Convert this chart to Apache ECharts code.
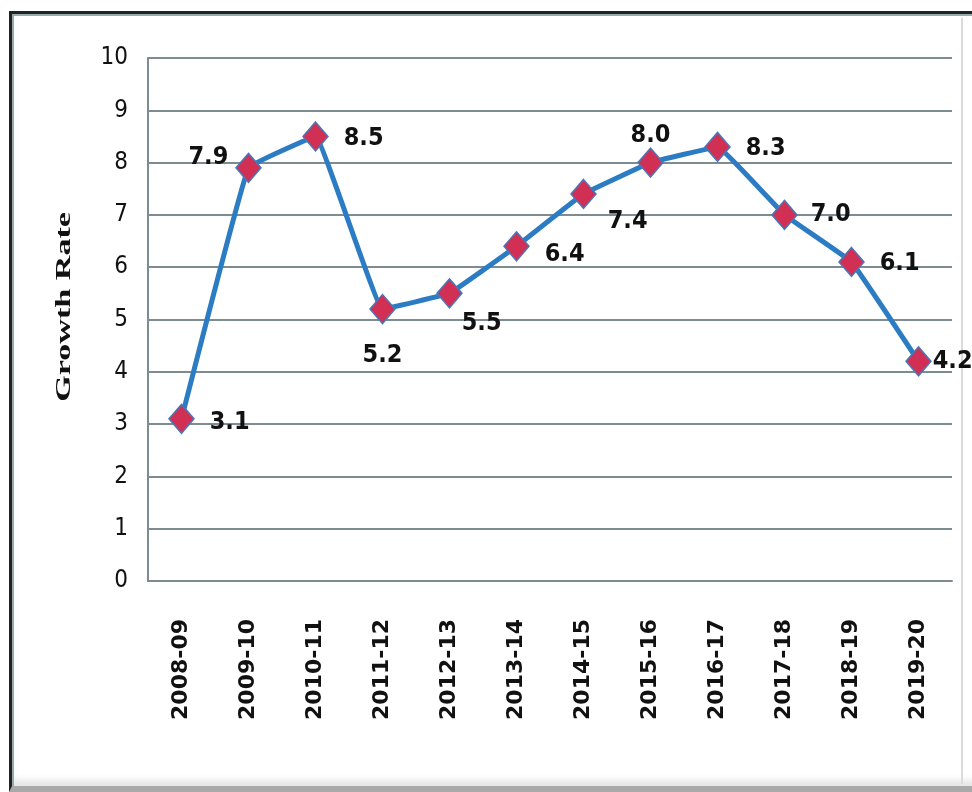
<!DOCTYPE html>
<html>
<head>
<meta charset="utf-8">
<script src="https://cdn.jsdelivr.net/npm/echarts@6/dist/echarts.min.js"></script>
<style>
  html, body { margin: 0; padding: 0; background: #fff; }
  .frame {
    position: absolute; left: 9px; top: 11px; width: 970px; height: 772px;
    border-left: 3px solid #222; border-top: 3px solid #222;
    border-bottom: 6px solid #a9a9a9;
    box-shadow: inset 2px 2px 0 #9aa, inset 0 -6px 6px #e6e6e6;
  }
  .rline { position: absolute; left: 961px; top: 18px; width: 2px; height: 766px; background: #d8dcdc; }
  #chart { position: absolute; left: 0; top: 0; width: 972px; height: 792px; }
</style>
</head>
<body>
<div class="frame"></div>
<div class="rline"></div>
<div id="chart"></div>
<script>
// data
var years = ['2008-09', '2009-10', '2010-11', '2011-12', '2012-13', '2013-14',
             '2014-15', '2015-16', '2016-17', '2017-18', '2018-19', '2019-20']
var growth = [3.1, 7.9, 8.5, 5.2, 5.5, 6.4, 7.4, 8.0, 8.3, 7.0, 6.1, 4.2]
var axisTitle = 'Growth Rate'

// where each value label sits relative to its marker
var labelPlace = [
  ['right', [10, 4]], ['left', [-2, -10]], ['right', [10, 2]], ['bottom', [0, 14]],
  ['right', [-6, 30]], ['right', [10, 8]], ['right', [6, 28]], ['top', [0, 6]],
  ['right', [10, 2]], ['right', [8, 0]], ['right', [10, 2]], ['right', [-4, 0]]
]

var condensed = '"DejaVu Sans Condensed", "DejaVu Sans", sans-serif'

var chart = echarts.init(document.getElementById('chart'))

var option = {
  backgroundColor: 'transparent',
  grid: { left: 148, right: 20, top: 58, bottom: 211 },
  // axis title, stretched along its length like the original
  graphic: [{
    type: 'text',
    left: 53,
    top: 212,
    rotation: Math.PI / 2,
    scaleX: 1.55,
    style: {
      text: axisTitle,
      font: 'bold 22px "Liberation Serif", serif',
      fill: '#111'
    }
  }],
  xAxis: {
    type: 'category',
    data: years,
    boundaryGap: true,
    axisLine: { lineStyle: { color: '#7d8c90', width: 2 } },
    axisTick: { show: false },
    axisLabel: {
      rotate: 90,
      margin: 38,
      color: '#111',
      fontFamily: 'DejaVu Sans',
      fontWeight: 'bold',
      fontSize: 22
    }
  },
  yAxis: {
    type: 'value',
    min: 0,
    max: 10,
    interval: 1,
    axisLine: { show: true, lineStyle: { color: '#7d8c90', width: 2 } },
    axisTick: { show: false },
    axisLabel: {
      margin: 20,
      color: '#111',
      fontFamily: condensed,
      fontSize: 24
    },
    splitLine: { lineStyle: { color: '#7d8c90', width: 2 } }
  },
  series: [{
    type: 'line',
    data: growth.map(function (v, i) {
      return {
        value: v,
        label: { position: labelPlace[i][0], offset: labelPlace[i][1] }
      }
    }),
    smooth: 0.06,
    lineStyle: { color: '#2b7cc3', width: 5 },
    symbol: 'diamond',
    symbolSize: [25, 29],
    itemStyle: { color: '#d22f55', borderColor: '#4a77b8', borderWidth: 1.5 },
    label: {
      show: true,
      formatter: function (p) { return p.value.toFixed(1) },
      color: '#111',
      fontFamily: condensed,
      fontWeight: 'bold',
      fontSize: 25
    },
    z: 3
  }]
}

chart.setOption(option)
</script>
</body>
</html>
